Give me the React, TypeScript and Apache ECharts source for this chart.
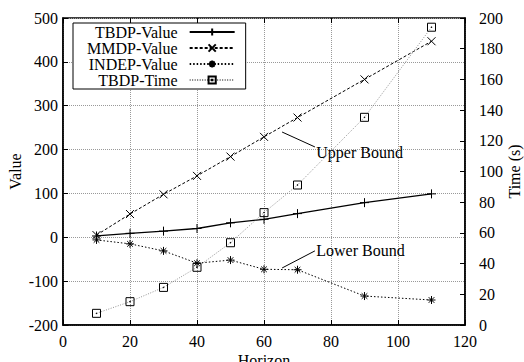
import React, { useEffect, useRef } from 'react';
import * as echarts from 'echarts';

const horizons = [10, 20, 30, 40, 50, 60, 70, 90, 110];
const tbdpValue = [3, 9, 14, 20, 33, 41, 54, 79, 99];
const mmdpValue = [5, 53, 98, 140, 184, 229, 273, 360, 447];
const indepValue = [-6, -15, -31, -59, -52, -73, -74, -134, -143];
const tbdpTime = [7.6, 15.2, 24.5, 37.6, 53.6, 73.2, 91.2, 135.3, 194];

const upperBound = [[65.4, 240], [75.2, 206]];
const upperBoundText = [75.6, 194];
const lowerBound = [[65.4, -70], [75.2, -31]];
const lowerBoundText = [75.6, -31];

const FONT = '"Liberation Serif", "Times New Roman", serif';

const PLUS = 'path://M5,0L5,10M0,5L10,5';
const CROSS = 'path://M0,0L10,10M10,0L0,10';
const STAR = 'path://M5,0L5,10M0,5L10,5M1.5,1.5L8.5,8.5M8.5,1.5L1.5,8.5';
const SQUARE = 'path://M0,0L10,0L10,10L0,10ZM4.6,4.6L5.4,4.6L5.4,5.4L4.6,5.4Z';

const pairs = (ys: number[]) => horizons.map((x, i) => [x, ys[i]]);

export default function App() {
  const ref = useRef<HTMLDivElement>(null);
  useEffect(() => {
    const chart = echarts.init(ref.current!, null, { renderer: 'svg' });
    const sym = { color: 'rgba(0,0,0,0)', borderColor: '#000', borderWidth: 1 };
    const txt = { fontFamily: FONT, color: '#000' };
    const boundLine = (pts: number[][]) => ({
      silent: true,
      symbol: ['none', 'none'],
      lineStyle: { color: '#000', width: 1, type: 'solid' },
      label: { show: false },
      data: [[{ coord: pts[0] }, { coord: pts[1] }]],
    });
    const boundText = (pt: number[], text: string) => ({
      silent: true,
      symbol: 'circle',
      symbolSize: 0,
      itemStyle: { color: 'rgba(0,0,0,0)' },
      label: {
        show: true,
        position: 'right',
        distance: 0,
        formatter: text,
        ...txt,
        fontSize: 16,
      },
      data: [{ coord: pt }],
    });
    chart.setOption({
      animation: false,
      textStyle: { fontFamily: FONT },
      grid: {
        left: 63,
        right: 59,
        top: 18,
        bottom: 37,
        outerBoundsMode: 'none',
        containLabel: false,
        show: true,
        borderColor: '#000',
        borderWidth: 1.5,
        backgroundColor: '#fff',
      },
      legend: {
        orient: 'vertical',
        align: 'right',
        left: 73,
        top: 23,
        padding: [1, 10, 1, 14],
        itemGap: 0,
        itemWidth: 45,
        itemHeight: 9,
        borderColor: '#000',
        borderWidth: 1,
        backgroundColor: '#fff',
        textStyle: { ...txt, fontSize: 16, lineHeight: 15, padding: [0, 7, 0, 0] },
        data: ['TBDP-Value', 'MMDP-Value', 'INDEP-Value', 'TBDP-Time'],
      },
      xAxis: [
        {
          type: 'value',
          min: 0,
          max: 120,
          interval: 20,
          name: 'Horizon',
          nameLocation: 'middle',
          nameGap: 27,
          nameMoveOverlap: false,
          nameTextStyle: { ...txt, fontSize: 16 },
          axisLine: { show: true, onZero: false, lineStyle: { color: '#000', width: 1.5 } },
          axisTick: { inside: true, length: 5, lineStyle: { color: '#000' } },
          axisLabel: { ...txt, fontSize: 16, margin: 8 },
          splitLine: { show: true, lineStyle: { color: '#999', type: [1, 1], width: 1 } },
        },
        {
          type: 'value',
          position: 'top',
          min: 0,
          max: 120,
          interval: 20,
          axisLine: { show: false, onZero: false },
          axisTick: { show: true, inside: true, length: 5, lineStyle: { color: '#000' } },
          axisLabel: { show: false },
          splitLine: { show: false },
        },
      ],
      yAxis: [
        {
          type: 'value',
          min: -200,
          max: 500,
          interval: 100,
          name: 'Value',
          nameLocation: 'middle',
          nameRotate: 90,
          nameGap: 40,
          nameMoveOverlap: false,
          nameTextStyle: { ...txt, fontSize: 16 },
          axisLine: { show: true, onZero: false, lineStyle: { color: '#000', width: 1.5 } },
          axisTick: { show: true, inside: true, length: 5, lineStyle: { color: '#000' } },
          axisLabel: { ...txt, fontSize: 16, margin: 5 },
          splitLine: { show: true, lineStyle: { color: '#999', type: [1, 1], width: 1 } },
        },
        {
          type: 'value',
          position: 'right',
          min: 0,
          max: 200,
          interval: 20,
          name: 'Time (s)',
          nameLocation: 'middle',
          nameRotate: 90,
          nameGap: 41,
          nameMoveOverlap: false,
          nameTextStyle: { ...txt, fontSize: 16 },
          axisLine: { show: true, onZero: false, lineStyle: { color: '#000', width: 1.5 } },
          axisTick: { show: true, inside: true, length: 5, lineStyle: { color: '#000' } },
          axisLabel: { ...txt, fontSize: 16, margin: 14 },
          splitLine: { show: false },
        },
      ],
      series: [
        {
          name: 'TBDP-Value',
          type: 'line',
          data: pairs(tbdpValue),
          symbol: PLUS,
          symbolSize: 9,
          itemStyle: sym,
          lineStyle: { color: '#000', width: 1.3, type: 'solid' },
          emphasis: { disabled: true },
        },
        {
          name: 'MMDP-Value',
          type: 'line',
          data: pairs(mmdpValue),
          symbol: CROSS,
          symbolSize: 8,
          itemStyle: sym,
          lineStyle: { color: '#000', width: 1, type: [3, 2] },
          emphasis: { disabled: true },
          markLine: boundLine(upperBound),
          markPoint: boundText(upperBoundText, 'Upper Bound'),
        },
        {
          name: 'INDEP-Value',
          type: 'line',
          data: pairs(indepValue),
          symbol: STAR,
          symbolSize: 8,
          itemStyle: sym,
          lineStyle: { color: '#000', width: 1, type: [1.5, 2] },
          emphasis: { disabled: true },
          markLine: boundLine(lowerBound),
          markPoint: boundText(lowerBoundText, 'Lower Bound'),
        },
        {
          name: 'TBDP-Time',
          type: 'line',
          yAxisIndex: 1,
          data: pairs(tbdpTime),
          symbol: SQUARE,
          symbolSize: 8,
          itemStyle: sym,
          lineStyle: { color: '#777', width: 0.8, type: [1, 1.5] },
          emphasis: { disabled: true },
        },
      ],
    });
    return () => chart.dispose();
  }, []);
  return (
    <div
      ref={ref}
      style={{ position: 'fixed', left: 0, top: 0, width: 524, height: 362, background: '#fff' }}
    />
  );
}
